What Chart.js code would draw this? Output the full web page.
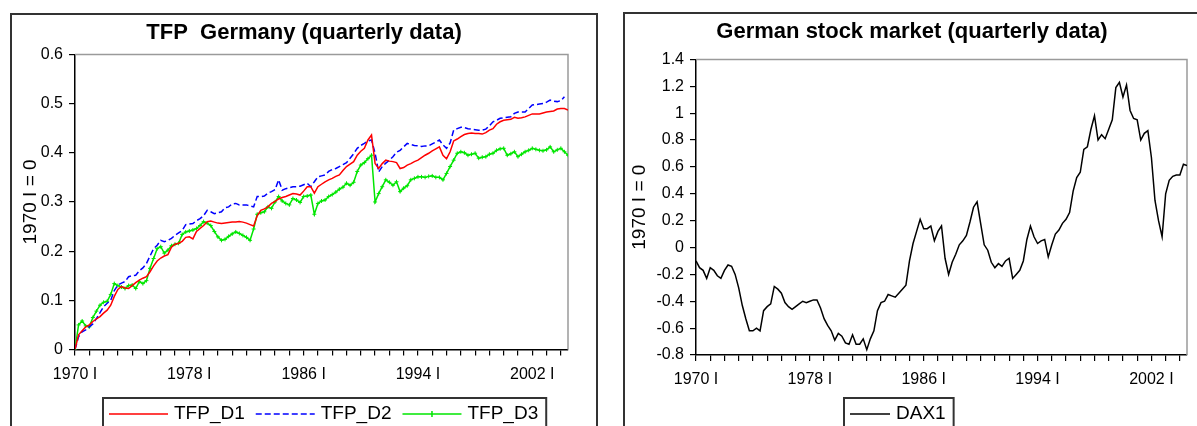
<!DOCTYPE html>
<html>
<head>
<meta charset="utf-8">
<title>TFP Germany / German stock market</title>
<script src="https://cdn.jsdelivr.net/npm/chart.js@4.4.1/dist/chart.umd.min.js"></script>
<style>
    html, body { margin: 0; padding: 0; background: #fff; width: 1197px; height: 426px; overflow: hidden; }
    .panel { position: absolute; border: 2px solid #333; background: #fff; }
    #panel-tfp { left: 10px; top: 13px; width: 584px; height: 440px; }
    #panel-dax { left: 623px; top: 12px; width: 576px; height: 440px; }
    canvas { position: absolute; left: 0; top: 0; }
</style>
</head>
<body>
<div class="panel" id="panel-tfp"><canvas id="tfpChart" width="584" height="440"></canvas></div>
<div class="panel" id="panel-dax"><canvas id="daxChart" width="574" height="440"></canvas></div>
<script>
// quarterly observations, 1970 I .. 2004 III (index 0 = 1970 I)
const startYear = 1970;
const xTickLabels = ['1970 I', '1978 I', '1986 I', '1994 I', '2002 I'];

// TFP, log level relative to 1970 I
const tfpD1 = [
    0.000, 0.030, 0.038, 0.046, 0.050, 0.057, 0.062, 0.067, 0.074, 0.080,
    0.090, 0.108, 0.122, 0.128, 0.125, 0.124, 0.130, 0.136, 0.141, 0.145,
    0.148, 0.158, 0.170, 0.180, 0.186, 0.190, 0.193, 0.208, 0.214, 0.216,
    0.220, 0.228, 0.229, 0.225, 0.240, 0.246, 0.252, 0.260, 0.261, 0.259,
    0.257, 0.256, 0.257, 0.258, 0.259, 0.259, 0.260, 0.259, 0.257, 0.254,
    0.251, 0.272, 0.283, 0.286, 0.290, 0.297, 0.301, 0.306, 0.309, 0.311,
    0.314, 0.317, 0.316, 0.314, 0.322, 0.331, 0.331, 0.318, 0.331, 0.336,
    0.341, 0.345, 0.348, 0.352, 0.355, 0.364, 0.372, 0.377, 0.382, 0.395,
    0.403, 0.409, 0.426, 0.436, 0.378, 0.368, 0.378, 0.385, 0.383, 0.382,
    0.380, 0.368, 0.370, 0.375, 0.378, 0.382, 0.385, 0.390, 0.395, 0.399,
    0.404, 0.408, 0.412, 0.395, 0.388, 0.402, 0.424, 0.428, 0.433, 0.437,
    0.439, 0.440, 0.439, 0.439, 0.438, 0.441, 0.446, 0.449, 0.458, 0.463,
    0.466, 0.467, 0.468, 0.472, 0.470, 0.471, 0.473, 0.476, 0.479, 0.479,
    0.479, 0.481, 0.483, 0.484, 0.485, 0.489, 0.490, 0.490, 0.487
];
const tfpD2 = [
    0.000, 0.026, 0.036, 0.040, 0.046, 0.052, 0.063, 0.075, 0.087, 0.094,
    0.100, 0.120, 0.131, 0.135, 0.138, 0.148, 0.150, 0.151, 0.160, 0.166,
    0.175, 0.190, 0.205, 0.212, 0.222, 0.219, 0.222, 0.226, 0.232, 0.237,
    0.242, 0.254, 0.255, 0.256, 0.262, 0.266, 0.272, 0.283, 0.280, 0.276,
    0.278, 0.280, 0.288, 0.290, 0.296, 0.297, 0.294, 0.294, 0.294, 0.292,
    0.290, 0.311, 0.311, 0.312, 0.318, 0.321, 0.325, 0.345, 0.324, 0.327,
    0.329, 0.331, 0.331, 0.332, 0.335, 0.338, 0.331, 0.341, 0.351, 0.353,
    0.355, 0.362, 0.366, 0.368, 0.372, 0.376, 0.380, 0.389, 0.398, 0.409,
    0.415, 0.419, 0.424, 0.426, 0.399, 0.361, 0.372, 0.379, 0.385, 0.392,
    0.401, 0.405, 0.412, 0.419, 0.417, 0.415, 0.414, 0.413, 0.414, 0.414,
    0.418, 0.422, 0.426, 0.416, 0.409, 0.420, 0.446, 0.449, 0.452, 0.451,
    0.449, 0.448, 0.447, 0.446, 0.446, 0.448, 0.455, 0.463, 0.466, 0.470,
    0.471, 0.472, 0.473, 0.480, 0.483, 0.483, 0.483, 0.490, 0.497, 0.498,
    0.499, 0.500, 0.503, 0.507, 0.505, 0.504, 0.506, 0.514, null
];
const tfpD3 = [
    0.000, 0.050, 0.058, 0.048, 0.046, 0.065, 0.078, 0.090, 0.096, 0.098,
    0.112, 0.134, 0.130, 0.127, 0.124, 0.130, 0.131, 0.124, 0.138, 0.134,
    0.140, 0.165, 0.185, 0.205, 0.209, 0.196, 0.202, 0.211, 0.214, 0.216,
    0.234, 0.239, 0.241, 0.243, 0.246, 0.252, 0.260, 0.257, 0.252, 0.240,
    0.229, 0.222, 0.224, 0.230, 0.235, 0.239, 0.236, 0.232, 0.228, 0.222,
    0.245, 0.275, 0.278, 0.280, 0.290, 0.287, 0.300, 0.311, 0.302, 0.297,
    0.294, 0.307, 0.304, 0.299, 0.311, 0.312, 0.314, 0.275, 0.297, 0.302,
    0.304, 0.311, 0.315, 0.320, 0.326, 0.330, 0.338, 0.334, 0.340, 0.362,
    0.375, 0.380, 0.388, 0.395, 0.300, 0.317, 0.331, 0.345, 0.340, 0.334,
    0.341, 0.321, 0.328, 0.333, 0.345, 0.348, 0.351, 0.351, 0.350, 0.352,
    0.353, 0.350, 0.350, 0.345, 0.358, 0.372, 0.385, 0.399, 0.402, 0.400,
    0.395, 0.397, 0.399, 0.389, 0.391, 0.392, 0.397, 0.399, 0.405, 0.408,
    0.409, 0.395, 0.398, 0.402, 0.392, 0.397, 0.402, 0.405, 0.409, 0.407,
    0.405, 0.404, 0.406, 0.412, 0.402, 0.406, 0.409, 0.402, 0.395
];

// DAX, log level relative to 1970 I
const dax1 = [
    -0.10, -0.15, -0.17, -0.23, -0.15, -0.17, -0.21, -0.23, -0.17, -0.13,
    -0.14, -0.20, -0.30, -0.43, -0.53, -0.62, -0.62, -0.60, -0.62, -0.47,
    -0.44, -0.42, -0.29, -0.31, -0.34, -0.41, -0.44, -0.46, -0.44, -0.42,
    -0.40, -0.41, -0.40, -0.39, -0.39, -0.45, -0.53, -0.58, -0.62, -0.69,
    -0.64, -0.66, -0.71, -0.72, -0.65, -0.72, -0.72, -0.68, -0.76, -0.68,
    -0.62, -0.47, -0.41, -0.40, -0.35, -0.36, -0.37, -0.34, -0.31, -0.28,
    -0.10, 0.03, 0.12, 0.21, 0.14, 0.14, 0.16, 0.05, 0.12, 0.16,
    -0.08, -0.20, -0.11, -0.05, 0.02, 0.05, 0.09, 0.19, 0.30, 0.34,
    0.18, 0.02, -0.02, -0.11, -0.15, -0.12, -0.14, -0.10, -0.08, -0.23,
    -0.20, -0.17, -0.10, 0.06, 0.16, 0.08, 0.03, 0.05, 0.06, -0.07,
    0.02, 0.10, 0.13, 0.18, 0.21, 0.26, 0.42, 0.52, 0.56, 0.73,
    0.75, 0.88, 0.98, 0.80, 0.84, 0.81, 0.88, 0.95, 1.19, 1.23,
    1.12, 1.21, 1.02, 0.96, 0.95, 0.80, 0.85, 0.87, 0.67, 0.35,
    0.20, 0.08, 0.40, 0.50, 0.53, 0.54, 0.54, 0.62, 0.61
];

const FONT = '"Liberation Sans", Arial, sans-serif';
const lastIndex = tfpD1.length - 1;

function toPoints(values) {
    return values.map((v, i) => ({ x: i, y: v }));
}

// gray top/right frame of the plot area (the axes draw left/bottom)
const plotFrame = {
    id: 'plotFrame',
    beforeDatasetsDraw(chart) {
        const ctx = chart.ctx;
        const a = chart.chartArea;
        ctx.save();
        ctx.strokeStyle = '#9a9a9a';
        ctx.lineWidth = 1.5;
        ctx.beginPath();
        ctx.moveTo(a.left, a.top);
        ctx.lineTo(a.right, a.top);
        ctx.lineTo(a.right, a.bottom);
        ctx.stroke();
        ctx.restore();
    }
};

// legend in a framed box under the plot, line samples like the original
const boxLegend = {
    id: 'boxLegend',
    afterDraw(chart, args, opts) {
        const ctx = chart.ctx;
        const y = opts.textY;
        let x = opts.left + 6;
        ctx.save();
        ctx.font = '19px ' + FONT;
        ctx.textBaseline = 'middle';
        chart.data.datasets.forEach(ds => {
            ctx.strokeStyle = ds.borderColor;
            ctx.lineWidth = 1.5;
            ctx.setLineDash(ds.borderDash || []);
            ctx.beginPath();
            ctx.moveTo(x, y);
            ctx.lineTo(x + opts.lineLen, y);
            ctx.stroke();
            ctx.setLineDash([]);
            if (ds.pointRadius > 0) {
                const mx = x + opts.lineLen / 2;
                ctx.beginPath();
                ctx.moveTo(mx, y - 3);
                ctx.lineTo(mx, y + 3);
                ctx.stroke();
            }
            x += opts.lineLen + 6;
            ctx.fillStyle = '#000';
            ctx.fillText(ds.label, x, y);
            x += ctx.measureText(ds.label).width + 11;
        });
        ctx.strokeStyle = '#333';
        ctx.lineWidth = 2;
        ctx.strokeRect(opts.left, opts.top, x - 3 - opts.left, 80);
        ctx.restore();
    }
};

function makeChart(canvasId, cfg) {
    const ctx = document.getElementById(canvasId).getContext('2d');
    return new Chart(ctx, {
        type: 'line',
        data: { datasets: cfg.datasets },
        plugins: [plotFrame, boxLegend],
        options: {
            responsive: false,
            animation: false,
            events: [],
            layout: { padding: 0 },
            elements: { line: { tension: 0 } },
            plugins: {
                legend: { display: false },
                tooltip: { enabled: false },
                title: {
                    display: true,
                    text: cfg.title,
                    color: '#000',
                    font: { family: FONT, size: 22, weight: 'bold' },
                    padding: cfg.titlePadding
                },
                boxLegend: cfg.legend
            },
            scales: {
                x: {
                    type: 'linear',
                    min: 0,
                    max: lastIndex,
                    afterFit: s => { s.height = cfg.xAxisHeight; },
                    border: { display: true, color: '#000', width: 1.5 },
                    grid: { drawOnChartArea: false, drawTicks: true, tickLength: 6, color: '#000', lineWidth: 1.2 },
                    ticks: {
                        stepSize: 4,
                        includeBounds: false,
                        autoSkip: false,
                        maxRotation: 0,
                        minRotation: 0,
                        padding: 9,
                        color: '#000',
                        font: { family: FONT, size: 16 },
                        callback: v => (v % 32 === 0 ? xTickLabels[v / 32] : '')
                    }
                },
                y: {
                    min: cfg.yMin,
                    max: cfg.yMax,
                    afterFit: s => { s.width = cfg.yAxisWidth; },
                    border: { display: true, color: '#000', width: 1.5 },
                    grid: { drawOnChartArea: false, drawTicks: true, tickLength: 6, color: '#000', lineWidth: 1.2 },
                    title: {
                        display: true,
                        text: '1970 I = 0',
                        color: '#000',
                        font: { family: FONT, size: 19 },
                        padding: { top: cfg.yTitlePad, bottom: 0 }
                    },
                    ticks: {
                        stepSize: cfg.yStep,
                        padding: 6,
                        color: '#000',
                        font: { family: FONT, size: 16 },
                        callback: v => String(parseFloat(v.toFixed(1)))
                    }
                },
                // empty right-hand margin, keeps the title centred on the whole panel
                margin: {
                    position: 'right',
                    afterFit: s => { s.width = cfg.rightMargin; },
                    grid: { display: false },
                    border: { display: false },
                    ticks: { display: false }
                }
            }
        }
    });
}

makeChart('tfpChart', {
    title: 'TFP  Germany (quarterly data)',
    titlePadding: { top: 5, bottom: 8 },
    rightMargin: 28,
    xAxisHeight: 105.5,
    yAxisWidth: 63,
    yTitlePad: 7,
    yMin: 0, yMax: 0.6, yStep: 0.1,
    legend: { left: 91, top: 383, textY: 399, lineLen: 59 },
    datasets: [
        { label: 'TFP_D1', data: toPoints(tfpD1), borderColor: '#ff0000', borderWidth: 1.5, pointRadius: 0 },
        { label: 'TFP_D2', data: toPoints(tfpD2), borderColor: '#0000ff', borderWidth: 1.5, borderDash: [6, 3], pointRadius: 0 },
        { label: 'TFP_D3', data: toPoints(tfpD3), borderColor: '#00e600', borderWidth: 1.5,
          pointRadius: 2, pointStyle: 'cross', pointBorderColor: '#00e600', pointBorderWidth: 1 }
    ]
});

makeChart('daxChart', {
    title: 'German stock market (quarterly data)',
    titlePadding: { top: 5, bottom: 14 },
    rightMargin: 12,
    xAxisHeight: 99,
    yAxisWidth: 71,
    yTitlePad: 3,
    yMin: -0.8, yMax: 1.4, yStep: 0.2,
    legend: { left: 219, top: 384, textY: 400, lineLen: 40 },
    datasets: [
        { label: 'DAX1', data: toPoints(dax1), borderColor: '#000', borderWidth: 1.5, pointRadius: 0 }
    ]
});
</script>
</body>
</html>
